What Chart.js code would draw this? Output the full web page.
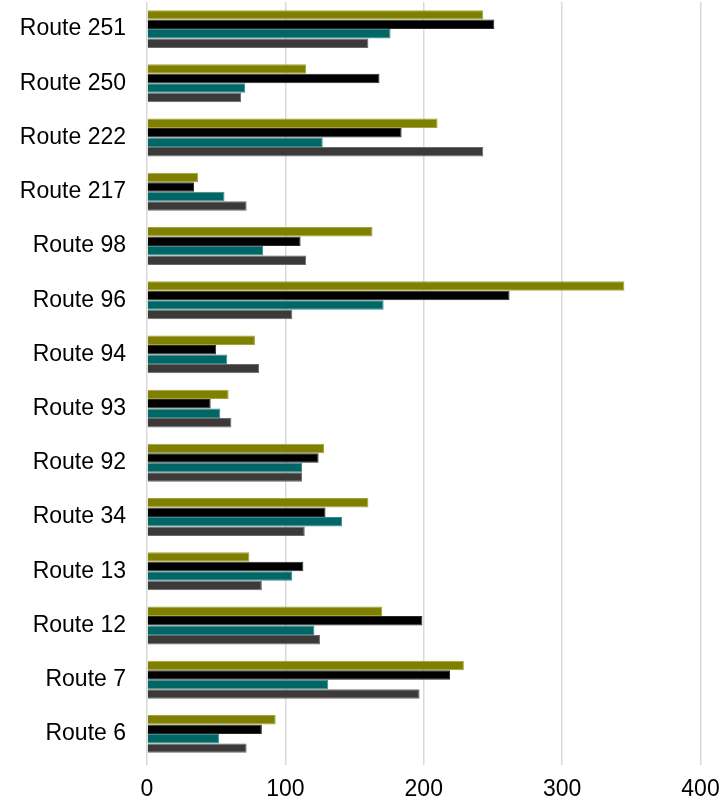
<!DOCTYPE html>
<html>
<head>
<meta charset="utf-8">
<script src="https://cdn.jsdelivr.net/npm/chart.js@4"></script>
<style>
  html, body { margin: 0; padding: 0; background: #ffffff; }
  #wrap { width: 722px; height: 802px; position: relative; }
</style>
</head>
<body>
<div id="wrap"><canvas id="chart"></canvas></div>
<script>
// routes, top to bottom
const routes = ["Route 251", "Route 250", "Route 222", "Route 217", "Route 98", "Route 96", "Route 94",
                "Route 93", "Route 92", "Route 34", "Route 13", "Route 12", "Route 7", "Route 6"];

// four series per route (olive, black, teal, dark grey)
const seriesOlive = [243, 115, 210, 37, 163, 345, 78, 59, 128, 160, 74, 170, 229, 93];
const seriesBlack = [251, 168, 184, 34, 111, 262, 50, 46, 124, 129, 113, 199, 219, 83];
const seriesTeal  = [176, 71, 127, 56, 84, 171, 58, 53, 112, 141, 105, 121, 131, 52];
const seriesGrey  = [160, 68, 243, 72, 115, 105, 81, 61, 112, 114, 83, 125, 197, 72];

const xTicks = [0, 100, 200, 300, 400];

const font = { family: "'Liberation Sans', Arial, sans-serif", size: 23 };

function serie(data, fill, edge) {
    return { data: data, backgroundColor: fill, borderColor: edge, borderWidth: 1,
             barPercentage: 1.0, categoryPercentage: 0.7 };
}

new Chart(document.getElementById("chart"), {
    type: "bar",
    data: {
        labels: routes,
        datasets: [
            serie(seriesOlive, "#808000", "#a3a33a"),
            serie(seriesBlack, "#000000", "#2a2a2a"),
            serie(seriesTeal, "#006666", "#3a8c8c"),
            serie(seriesGrey, "#3b3a39", "#6a6a6a")
        ]
    },
    options: {
        indexAxis: "y",
        responsive: true,
        maintainAspectRatio: false,
        animation: false,
        layout: { padding: { top: 2, right: 21.5, left: 0, bottom: 0 } },
        plugins: { legend: { display: false }, tooltip: { enabled: false } },
        scales: {
            x: {
                min: 0, max: 400,
                afterBuildTicks: s => { s.ticks = xTicks.map(v => ({ value: v })); },
                afterFit: s => { s.height = 41; s.paddingLeft = 0; s.paddingRight = 0; },
                border: { display: false },
                grid: { color: "#d9d9d9", lineWidth: 1.5, drawTicks: true, tickLength: 4, tickColor: "#d9d9d9" },
                ticks: { color: "#000000", font: font, padding: 11, maxRotation: 0 }
            },
            y: {
                afterFit: s => { s.width = 147; s.paddingTop = 0; s.paddingBottom = 0; },
                border: { display: false },
                grid: { display: false, drawTicks: false },
                ticks: { color: "#000000", font: font, padding: 21, autoSkip: false }
            }
        }
    }
});
</script>
</body>
</html>
